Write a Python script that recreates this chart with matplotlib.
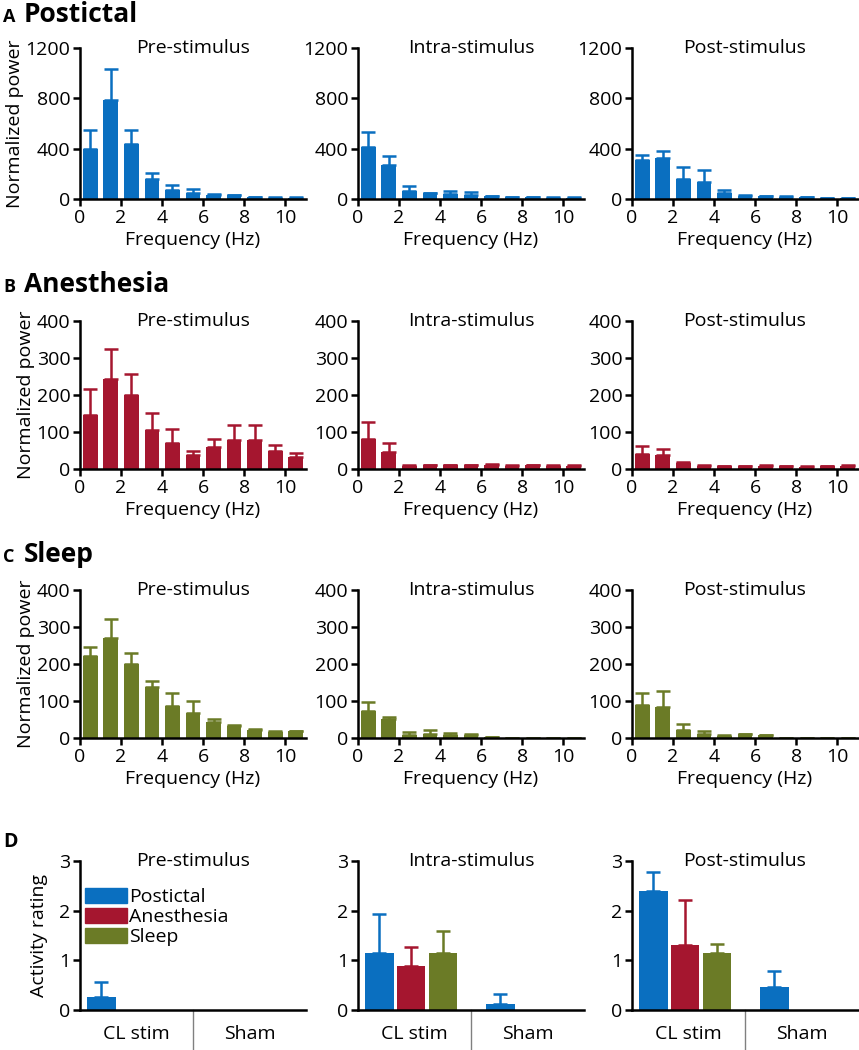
import numpy as np
import matplotlib
matplotlib.use("Agg")
import matplotlib.pyplot as plt
from matplotlib.patches import Patch

plt.rcParams['font.family'] = ['Open Sans', 'DejaVu Sans']

# ---- data ----
freq = [0.5, 1.5, 2.5, 3.5, 4.5, 5.5, 6.5, 7.5, 8.5, 9.5, 10.5]
phases = ['Pre-stimulus', 'Intra-stimulus', 'Post-stimulus']

postictal_mean = [
    [400, 790, 440, 160, 75, 50, 35, 30, 15, 10, 10],
    [410, 270, 60, 45, 40, 35, 20, 15, 15, 10, 10],
    [310, 325, 160, 135, 45, 25, 20, 18, 15, 5, 5],
]
postictal_err = [
    [150, 240, 105, 50, 40, 28, 5, 5, 3, 2, 2],
    [125, 70, 40, 5, 22, 18, 3, 3, 3, 2, 2],
    [40, 55, 95, 95, 30, 3, 3, 3, 2, 1, 1],
]
anesthesia_mean = [
    [147, 244, 200, 106, 70, 39, 59, 78, 78, 48, 32],
    [80, 45, 8, 10, 10, 10, 11, 9, 10, 9, 8],
    [40, 38, 16, 9, 7, 7, 9, 7, 5, 7, 9],
]
anesthesia_err = [
    [69, 80, 56, 45, 39, 11, 22, 40, 40, 18, 11],
    [48, 24, 2, 2, 2, 2, 2, 2, 2, 2, 2],
    [21, 16, 2, 2, 2, 2, 2, 2, 2, 2, 2],
]
sleep_mean = [
    [222, 271, 200, 139, 87, 67, 42, 33, 22, 16, 18],
    [74, 52, 7, 12, 9, 7, 3, 1, 1, 1, 1],
    [89, 84, 22, 11, 6, 10, 7, 1, 1, 1, 1],
]
sleep_err = [
    [25, 50, 29, 15, 34, 32, 10, 2, 2, 2, 2],
    [22, 6, 9, 9, 4, 3, 1, 0, 0, 0, 0],
    [33, 44, 17, 7, 2, 2, 2, 0, 0, 0, 0],
]

groups = ['CL stim', 'Sham']
conditions = ['Postictal', 'Anesthesia', 'Sleep']
# activity rating [phase][condition] -> (CL stim, Sham)
rating_mean = [
    [[0.27, 0], [0, 0], [0, 0]],
    [[1.14, 0.13], [0.88, 0], [1.14, 0]],
    [[2.39, 0.47], [1.31, 0], [1.14, 0]],
]
rating_err = [
    [[0.30, 0], [0, 0], [0, 0]],
    [[0.80, 0.19], [0.39, 0], [0.45, 0]],
    [[0.38, 0.31], [0.90, 0], [0.19, 0]],
]

colors = ['#0a6fc0', '#a5162f', '#6b7b26']
fs = 14

W, H = 859, 1050
fig = plt.figure(figsize=(W / 100, H / 100), dpi=100)

lefts = [80, 358, 632]
axw = 226
rows = [(48, 199), (321, 469), (590, 738), (861, 1010)]


def make_ax(i, j):
    top, bot = rows[i]
    return fig.add_axes([lefts[j] / W, 1 - bot / H, axw / W, (bot - top) / H])


def style(ax):
    for s in ['top', 'right']:
        ax.spines[s].set_visible(False)
    for s in ['left', 'bottom']:
        ax.spines[s].set_linewidth(1.8)
    ax.tick_params(direction='out', length=5, width=1.8, labelsize=fs, pad=2,
                   colors='black')


spectra = [(postictal_mean, postictal_err, 1200, [0, 400, 800, 1200]),
           (anesthesia_mean, anesthesia_err, 400, [0, 100, 200, 300, 400]),
           (sleep_mean, sleep_err, 400, [0, 100, 200, 300, 400])]

for i, (means, errs, ymax, yt) in enumerate(spectra):
    c = colors[i]
    for j in range(3):
        ax = make_ax(i, j)
        ax.bar(freq, means[j], width=0.72, color=c, zorder=2)
        ax.errorbar(freq, means[j], yerr=[np.zeros(len(freq)), errs[j]], fmt='none',
                    ecolor=c, elinewidth=1.8, capsize=5, capthick=1.8, zorder=1)
        ax.set_xlim(0, 11)
        ax.set_ylim(0, ymax)
        ax.set_xticks([0, 2, 4, 6, 8, 10])
        ax.set_yticks(yt)
        style(ax)
        ax.set_xlabel('Frequency (Hz)', fontsize=fs, labelpad=3)
        if j == 0:
            ax.set_ylabel('Normalized power', fontsize=fs, labelpad=1)
        ax.text(0.5, 1.0, phases[j], transform=ax.transAxes, ha='center',
                va='center', fontsize=fs)

# panel D
offs = [-0.28, 0.0, 0.28]
gpos = [0.47, 1.54]
for j in range(3):
    ax = make_ax(3, j)
    for k in range(3):
        for g in range(2):
            m = rating_mean[j][k][g]
            if m <= 0:
                continue
            x = gpos[g] + offs[k]
            ax.bar(x, m, width=0.25, color=colors[k], zorder=2)
            ax.errorbar(x, m, yerr=[[0], [rating_err[j][k][g]]], fmt='none',
                        ecolor=colors[k], elinewidth=1.8, capsize=5, capthick=1.8,
                        zorder=1)
    ax.set_xlim(0, 2)
    ax.set_ylim(0, 3)
    ax.set_yticks([0, 1, 2, 3])
    ax.set_xticks([])
    style(ax)
    ax.plot([1, 1], [0, -0.27], color='gray', lw=1, transform=ax.get_xaxis_transform(),
            clip_on=False)
    for gx, gl in zip([0.5, 1.5], groups):
        ax.text(gx, -0.16, gl, transform=ax.get_xaxis_transform(), ha='center',
                va='center', fontsize=fs)
    ax.text(0.5, 1.0, phases[j], transform=ax.transAxes, ha='center',
            va='center', fontsize=fs)
    if j == 0:
        ax.set_ylabel('Activity rating', fontsize=fs, labelpad=8)
        handles = [Patch(color=colors[k], label=conditions[k]) for k in range(3)]
        ax.legend(handles=handles, loc='upper left', bbox_to_anchor=(0.02, 0.82),
                  frameon=False, fontsize=fs, handlelength=2.2, handleheight=0.8,
                  handletextpad=0.1, labelspacing=0.1, borderaxespad=0,
                  borderpad=0)

# row headings
heads = [('A', 'Postictal', 15), ('B', 'Anesthesia', 285), ('C', 'Sleep', 555)]
for letter, name, y in heads:
    fig.text(3 / W, 1 - (y + 2) / H, letter, fontsize=13, fontweight='bold', va='center')
    fig.text(24 / W, 1 - y / H, name, fontsize=19, fontweight='bold', va='center')
fig.text(3 / W, 1 - 842 / H, 'D', fontsize=14, fontweight='bold', va='center')

fig.savefig('out.png', dpi=100)
